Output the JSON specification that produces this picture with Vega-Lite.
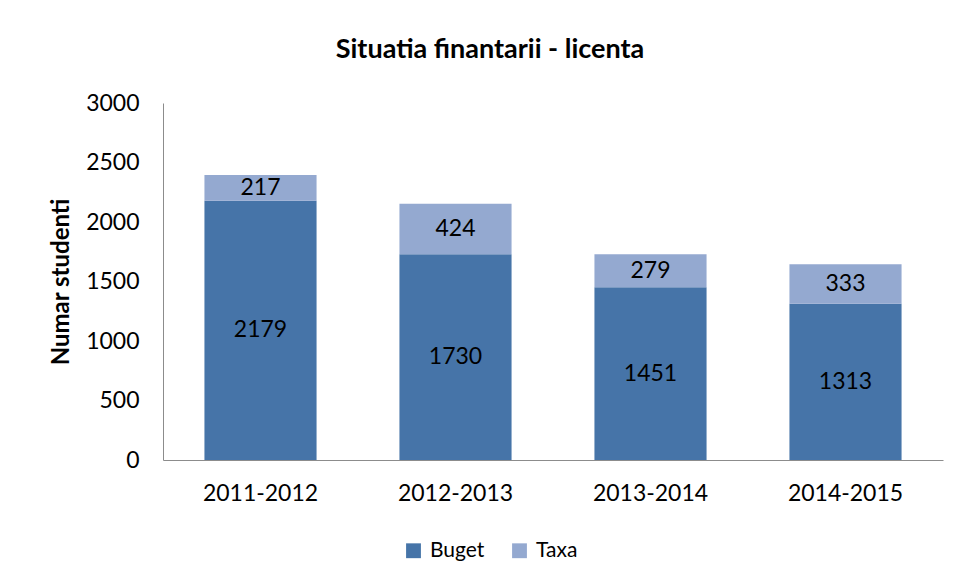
{
  "$schema": "https://vega.github.io/schema/vega-lite/v6.json",
  "width": 780,
  "height": 357,
  "autosize": {"type": "none"},
  "padding": {"left": 163, "top": 103, "right": 15, "bottom": 120},
  "background": "white",
  "config": {
    "font": "Lato",
    "view": {"stroke": null}
  },
  "title": {
    "text": "Situatia finantarii - licenta",
    "font": "Lato",
    "fontSize": 27,
    "fontWeight": "bold",
    "color": "black",
    "anchor": "middle",
    "dx": -63,
    "offset": 28
  },
  "data": {
    "values": [
      {"an": "2011-2012", "tip": "Buget", "ord": 1, "n": 2179},
      {"an": "2011-2012", "tip": "Taxa", "ord": 2, "n": 217},
      {"an": "2012-2013", "tip": "Buget", "ord": 1, "n": 1730},
      {"an": "2012-2013", "tip": "Taxa", "ord": 2, "n": 424},
      {"an": "2013-2014", "tip": "Buget", "ord": 1, "n": 1451},
      {"an": "2013-2014", "tip": "Taxa", "ord": 2, "n": 279},
      {"an": "2014-2015", "tip": "Buget", "ord": 1, "n": 1313},
      {"an": "2014-2015", "tip": "Taxa", "ord": 2, "n": 333}
    ]
  },
  "encoding": {
    "x": {
      "field": "an",
      "type": "nominal",
      "scale": {"paddingInner": 0.425, "paddingOuter": 0.2125},
      "axis": {
        "title": null,
        "labelAngle": 0,
        "ticks": false,
        "domainColor": "#8c8c8c",
        "labelFont": "Lato",
        "labelFontSize": 23,
        "labelColor": "black",
        "labelPadding": 22
      }
    },
    "y": {
      "field": "n",
      "type": "quantitative",
      "stack": "zero",
      "scale": {"domain": [0, 3000]},
      "axis": {
        "title": "Numar studenti",
        "titleFont": "Lato",
        "titleFontSize": 24,
        "titleFontWeight": "bold",
        "titleColor": "black",
        "titlePadding": 12,
        "values": [0, 500, 1000, 1500, 2000, 2500, 3000],
        "format": "d",
        "grid": false,
        "ticks": false,
        "domainColor": "#8c8c8c",
        "labelFont": "Lato",
        "labelFontSize": 23,
        "labelColor": "black",
        "labelPadding": 24
      }
    },
    "order": {"field": "ord", "type": "quantitative", "sort": "ascending"}
  },
  "layer": [
    {
      "mark": {"type": "bar"},
      "encoding": {
        "color": {
          "field": "tip",
          "type": "nominal",
          "scale": {"domain": ["Buget", "Taxa"], "range": ["#4674A8", "#94A9D0"]},
          "legend": {
            "title": null,
            "orient": "none",
            "direction": "horizontal",
            "legendX": 240,
            "legendY": 437,
            "symbolType": "square",
            "symbolSize": 220,
            "symbolStrokeWidth": 0,
            "labelFont": "Lato",
            "labelFontSize": 21,
            "labelColor": "black",
            "columnPadding": 24,
            "labelOffset": 6
          }
        }
      }
    },
    {
      "mark": {"type": "text", "font": "Lato", "fontSize": 23, "color": "black", "baseline": "middle"},
      "encoding": {
        "y": {"field": "n", "type": "quantitative", "stack": "zero", "bandPosition": 0.5},
        "text": {"field": "n", "type": "quantitative"},
        "detail": {"field": "tip"}
      }
    }
  ]
}
